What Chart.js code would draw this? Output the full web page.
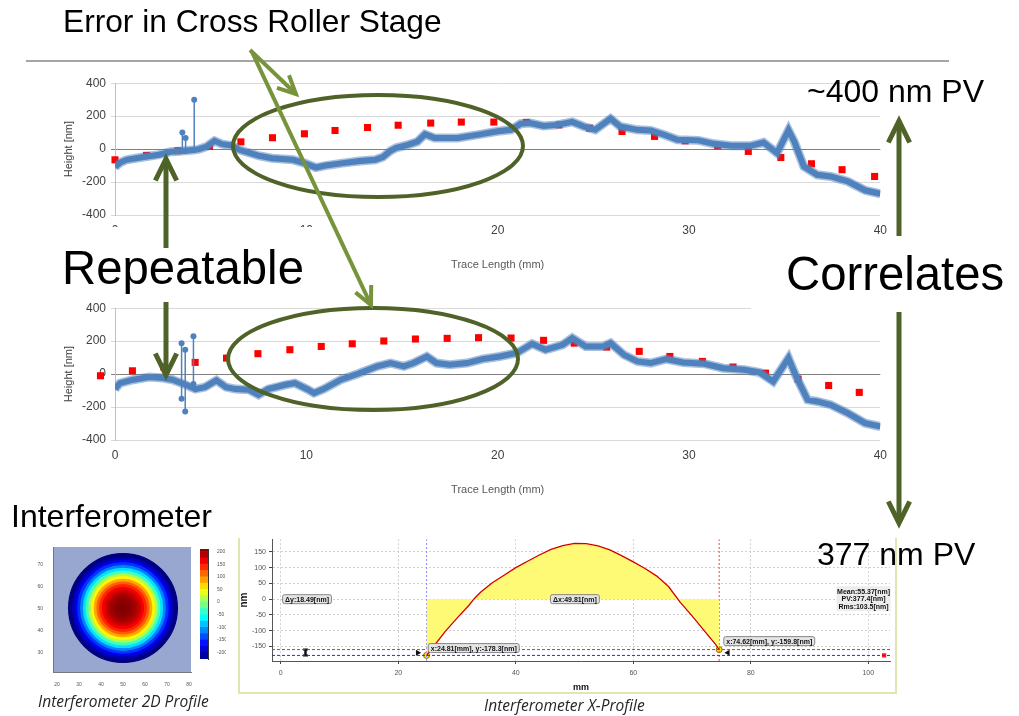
<!DOCTYPE html>
<html>
<head>
<meta charset="utf-8">
<script src="https://cdn.jsdelivr.net/npm/chart.js@4.4.0/dist/chart.umd.min.js"></script>
<style>
  html, body { margin: 0; padding: 0; background: #fff; }
  body { width: 1019px; height: 716px; position: relative; overflow: hidden; font-family: "Liberation Sans", Arial, sans-serif; }
  .box { position: absolute; }
  .cover { position: absolute; background: #fff; z-index: 2; }
  .txt { position: absolute; white-space: nowrap; line-height: 1; color: #000; z-index: 4; }
  .cap { position: absolute; white-space: nowrap; line-height: 1; color: #262626; font-family: "Open Sans", sans-serif; font-style: italic; font-size: 15.5px; z-index: 4; }
  #overlay { position: absolute; left: 0; top: 0; z-index: 3; }
</style>
</head>
<body>
<div class="box" id="trace1Box" style="left:60px;top:71px;width:835px;height:204px;"><canvas id="trace1Chart"></canvas></div>
<div class="box" id="trace2Box" style="left:60px;top:296px;width:835px;height:204px;"><canvas id="trace2Chart"></canvas></div>
<div class="box" id="profileFrame" style="left:238px;top:538px;width:659px;height:156px;box-sizing:border-box;border:2px solid #dde8b0;border-top:none;"></div>
<div class="box" id="profileBox" style="left:238px;top:532px;width:659px;height:162px;"><canvas id="profileChart"></canvas></div>
<div class="box" id="mapBox" style="left:30px;top:541px;width:165px;height:151px;"><canvas id="mapAxesChart"></canvas></div>
<div class="box" id="ringBox" style="left:68px;top:553px;width:110px;height:110px;z-index:1;"><canvas id="mapRingChart"></canvas></div>
<div class="box" id="barBox" style="left:200px;top:545px;width:26px;height:118px;"><canvas id="colorBarChart"></canvas></div>

<div class="cover" style="left:56px;top:227px;width:262px;height:66px;"></div>
<div class="cover" style="left:751px;top:246px;width:268px;height:64px;"></div>

<svg id="overlay" width="1019" height="716"></svg>

<div class="txt" style="left:63px;top:6px;font-size:31.7px;">Error in Cross Roller Stage</div>
<div class="txt" style="left:807px;top:75px;font-size:32px;">~400 nm PV</div>
<div class="txt" style="left:62px;top:244px;font-size:47.3px;">Repeatable</div>
<div class="txt" style="left:786px;top:250px;font-size:47.3px;">Correlates</div>
<div class="txt" style="left:11px;top:500px;font-size:32px;">Interferometer</div>
<div class="txt" style="left:817px;top:538px;font-size:32px;">377 nm PV</div>
<div class="cap" style="left:38px;top:694px;">Interferometer 2D Profile</div>
<div class="cap" style="left:484px;top:698px;">Interferometer X-Profile</div>

<script>
// trace 1 (upper stylus scan)
const trace1X = [0, 0.3, 0.6, 1.5, 2.3, 2.9, 3.5, 4.1, 4.4, 4.8, 5.2, 5.6, 6.1, 6.5, 7.5, 8.2, 9.3, 9.9, 10.5, 11.0,
  11.9, 12.8, 13.6, 14.0, 14.4, 14.7, 15.3, 15.8, 16.2, 16.7, 17.9, 19.0, 20.0, 20.7, 21.2, 21.7, 22.4, 23.1, 23.9, 24.5,
  25.1, 25.9, 26.4, 27.3, 28.0, 28.7, 29.4, 30.5, 31.3, 32.2, 33.2, 33.9, 34.6, 35.2, 35.5, 36.0, 36.7, 37.4, 38.3, 39.2, 40.0];
const trace1Y = [-109, -80, -65, -48, -34, -16, -12, -6, 0, 16, 50, 30, 22, -4, -40, -55, -65, -85, -112, -100,
  -85, -72, -65, -48, -10, 8, 26, 45, 90, 68, 68, 88, 108, 117, 154, 158, 141, 147, 165, 137,
  117, 185, 137, 117, 113, 87, 57, 53, 32, 20, 20, 40, -24, 115, 46, -105, -156, -166, -196, -250, -271];
const spike1X = [3.52, 3.69, 4.14];
const spike1Low = [-12, -10, -6];
const spike1High = [101, 67, 299];
const stage1X = [0, 1.65, 3.29, 4.94, 6.58, 8.23, 9.9, 11.5, 13.2, 14.8, 16.5, 18.1, 19.8,
  21.5, 23.2, 24.8, 26.5, 28.2, 29.8, 31.5, 33.1, 34.8, 36.4, 38.0, 39.7];
const stage1Y = [-65, -38, -10, 16, 44, 69, 93, 113, 131, 145, 158, 164, 164,
  162, 147, 127, 107, 77, 50, 20, -14, -51, -89, -125, -166];

// trace 2 (repeat scan)
const trace2X = [0, 0.26, 0.95, 1.8, 2.5, 3.0, 3.7, 4.2, 4.7, 5.3, 5.8, 6.3, 7.0, 7.5, 8.0, 8.9, 9.4, 10.1, 10.4, 10.9,
  11.8, 12.7, 13.7, 14.4, 15.1, 15.6, 16.3, 16.8, 17.5, 18.4, 19.2, 20.1, 21.0, 21.8, 22.5, 23.4, 23.9, 24.6, 25.5, 25.9,
  26.6, 27.3, 28.0, 28.8, 29.7, 30.8, 31.8, 32.9, 33.7, 34.4, 35.2, 35.6, 36.2, 36.7, 37.4, 38.3, 39.2, 40.0];
const trace2Y = [-91, -55, -34, -18, -24, -34, -65, -91, -79, -38, -79, -91, -95, -126, -91, -65, -55, -95, -115, -91,
  -34, 2, 47, 67, 47, 67, 107, 67, 57, 67, 91, 107, 128, 184, 148, 178, 219, 168, 168, 188,
  117, 77, 67, 91, 71, 63, 36, 26, 10, -45, 97, -14, -156, -166, -186, -237, -298, -318];
const spike2X = [3.48, 3.67, 4.1];
const spike2Low = [-150, -227, -60];
const spike2High = [188, 148, 229];
const stage2X = [-0.76, 0.91, 2.55, 4.19, 5.83, 7.47, 9.14, 10.78, 12.4, 14.05, 15.7, 17.36, 19.0,
  20.7, 22.4, 24.0, 25.7, 27.4, 29.0, 30.7, 32.3, 34.0, 35.7, 37.3, 38.9];
const stage2Y = [-10, 20, 43, 71, 97, 124, 148, 168, 184, 201, 213, 217, 221,
  219, 205, 188, 164, 138, 107, 77, 43, 6, -30, -69, -111];

// interferometer X-profile
const profileX = [24.81, 26, 28, 30, 32, 33, 34, 36, 38, 40, 42, 44, 46, 48, 50, 52, 54, 56, 58, 60, 62, 64, 66, 68, 70, 72, 74, 74.62];
const profileY = [-178.3, -150, -102, -60, -20, 3, 22, 52, 76, 100, 120, 140, 158, 170, 177, 176, 169, 156, 138, 118, 97, 73, 40, -10, -53, -98, -143, -159.8];
const profileXTicks = [0, 20, 40, 60, 80, 100];
const profileYTicks = [-150, -100, -50, 0, 50, 100, 150];
const cursorA = { x: 24.81, y: -178.3 };
const cursorB = { x: 74.62, y: -159.8 };
const profileNotes = [
  { text: "\u0394y:18.49[nm]", x: 0.3, y: 0 },
  { text: "\u0394x:49.81[nm]", x: 45.9, y: 0 },
  { text: "x:24.81[mm], y:-178.3[nm]", x: 25.1, y: -155 },
  { text: "x:74.62[mm], y:-159.8[nm]", x: 75.4, y: -133 }
];
const profileStats = ["Mean:55.37[nm]", "PV:377.4[nm]", "Rms:103.5[nm]"];

// interferometer 2D map: height per ring, outer edge to centre
const mapRingHeights = [-225, -205, -180, -150, -115, -75, -35, 10, 50, 85, 115, 140, 160, 175, 188, 196, 202, 206, 208, 210];
const mapXTicks = [20, 30, 40, 50, 60, 70, 80];
const mapYTicks = [30, 40, 50, 60, 70];
const colorBarLevels = [-225, -200, -175, -150, -125, -100, -75, -50, -25, 0, 25, 50, 75, 100, 125, 150, 175, 200, 210];
const colorBarTicks = [-200, -150, -100, -50, 0, 50, 100, 150, 200];

const jet = (v) => {
    const t = (v - colorBarLevels[0]) / (colorBarLevels[colorBarLevels.length - 1] - colorBarLevels[0]);
    const c = (k) => Math.round(255 * Math.max(0, Math.min(1, 1.5 - Math.abs(4 * t - k))));
    return `rgb(${c(3)},${c(2)},${c(1)})`;
};

const pairs = (xs, ys) => xs.map((x, i) => ({ x, y: ys[i] }));
const spikes = (xs, lows, highs) =>
    xs.flatMap((x, i) => [{ x, y: lows[i] }, { x, y: highs[i] }, { x, y: null }]);
const fixedTicks = (values) => (scale) => {
    scale.ticks = values.map((value) => ({ value }));
};

// lets the stage markers that sit left of x = 0 still be drawn
const looseArea = {
    id: "looseArea",
    beforeDatasetDraw(chart, args) {
        if (args.index !== 3) return;
        this._saved = chart.chartArea;
        chart.chartArea = { ...chart.chartArea, left: chart.chartArea.left - 25 };
    },
    afterDatasetDraw(chart, args) {
        if (args.index !== 3 || !this._saved) return;
        chart.chartArea = this._saved;
        this._saved = null;
    },
};

document.addEventListener("DOMContentLoaded", () => {
    Chart.defaults.font.family = "'Liberation Sans', Arial, sans-serif";
    Chart.defaults.animation = false;

    /** ===== Trace charts (Line) ===== */
    const traceChart = (id, tx, ty, sx, slo, shi, qx, qy) => {
        const ctx = document.getElementById(id)?.getContext("2d");
        if (!ctx) return;
        const trace = pairs(tx, ty);
        new Chart(ctx, {
            type: "line",
            data: {
                datasets: [
                    { data: trace, borderColor: "rgba(79,129,189,0.5)", borderWidth: 9, pointRadius: 0, tension: 0 },
                    { data: trace, borderColor: "#4f81bd", borderWidth: 6, pointRadius: 0, tension: 0 },
                    {
                        data: spikes(sx, slo, shi),
                        borderColor: "#4f81bd",
                        borderWidth: 1.5,
                        pointRadius: 3,
                        pointBackgroundColor: "#4f81bd",
                        pointBorderWidth: 0,
                        spanGaps: false,
                    },
                    {
                        data: pairs(qx, qy),
                        showLine: false,
                        pointStyle: "rect",
                        pointRadius: 5,
                        pointBackgroundColor: "#ff0000",
                        pointBorderWidth: 0,
                        clip: false,
                    },
                ],
            },
            options: {
                responsive: true,
                maintainAspectRatio: false,
                layout: { padding: { top: 0, right: 13, left: 0, bottom: 0 } },
                plugins: { legend: { display: false }, tooltip: { enabled: false } },
                scales: {
                    x: {
                        type: "linear",
                        min: 0,
                        max: 40,
                        ticks: { stepSize: 10, color: "#404040", font: { size: 12 }, padding: 8, maxRotation: 0 },
                        grid: { display: false, drawTicks: false },
                        border: { display: false },
                        title: {
                            display: true,
                            text: "Trace Length (mm)",
                            color: "#595959",
                            font: { size: 11 },
                            padding: { top: 0, bottom: 3 },
                        },
                        afterFit: (s) => { s.height = 60; },
                    },
                    y: {
                        min: -400,
                        max: 400,
                        ticks: { stepSize: 200, color: "#404040", font: { size: 12 }, padding: 5 },
                        grid: {
                            color: (c) => (c.tick && c.tick.value === 0 ? "#808080" : "#d9d9d9"),
                            tickLength: 4,
                        },
                        border: { color: "#bfbfbf" },
                        title: {
                            display: true,
                            text: "Height [nm]",
                            color: "#404040",
                            font: { size: 11 },
                            padding: { top: 2, bottom: 0 },
                        },
                        afterFit: (s) => { s.width = 55; },
                    },
                },
            },
            plugins: [looseArea],
        });
    };

    traceChart("trace1Chart", trace1X, trace1Y, spike1X, spike1Low, spike1High, stage1X, stage1Y);
    traceChart("trace2Chart", trace2X, trace2Y, spike2X, spike2Low, spike2High, stage2X, stage2Y);

    /** ===== Interferometer X-Profile (Line) ===== */
    const profileLabels = {
        id: "profileLabels",
        afterDatasetsDraw(chart) {
            const { ctx, scales: { x, y } } = chart;
            ctx.save();
            ctx.font = "bold 7px 'Liberation Sans', Arial, sans-serif";
            ctx.textBaseline = "middle";
            const tag = (text, px, py) => {
                const w = ctx.measureText(text).width + 5;
                ctx.beginPath();
                ctx.roundRect(px, py - 4.5, w, 9, 2);
                ctx.fillStyle = "#e4e4e4";
                ctx.fill();
                ctx.strokeStyle = "#6f6f6f";
                ctx.lineWidth = 0.8;
                ctx.stroke();
                ctx.fillStyle = "#111";
                ctx.fillText(text, px + 2.5, py + 0.5);
            };
            profileNotes.forEach((n) => tag(n.text, x.getPixelForValue(n.x), y.getPixelForValue(n.y)));

            const cx = x.getPixelForValue(99.2);
            const cy = y.getPixelForValue(0);
            ctx.fillStyle = "rgba(235,235,235,0.9)";
            ctx.fillRect(cx - 27, cy - 13, 54, 25);
            ctx.fillStyle = "#111";
            ctx.textAlign = "center";
            profileStats.forEach((s, i) => ctx.fillText(s, cx, cy - 7 + i * 7.4));
            ctx.restore();
        },
    };

    const profileCtx = document.getElementById("profileChart")?.getContext("2d");
    if (profileCtx) {
        const xMin = -1.5, xMax = 103.7, yMin = -196, yMax = 190;
        new Chart(profileCtx, {
            type: "line",
            data: {
                datasets: [
                    {
                        data: pairs(profileX, profileY),
                        borderColor: "#d40000",
                        borderWidth: 1.3,
                        backgroundColor: "rgba(255,250,110,0.95)",
                        fill: "origin",
                        pointRadius: 0,
                    },
                    {
                        data: [{ x: xMin, y: cursorB.y }, { x: xMax, y: cursorB.y }],
                        borderColor: "#ff2020", borderWidth: 1, borderDash: [3, 2], pointRadius: 0,
                    },
                    {
                        data: [{ x: xMin, y: cursorA.y }, { x: xMax, y: cursorA.y }],
                        borderColor: "#2a2ae0", borderWidth: 1, borderDash: [3, 2], pointRadius: 0,
                    },
                    {
                        data: [{ x: cursorA.x, y: yMin }, { x: cursorA.x, y: yMax }],
                        borderColor: "#8a8aff", borderWidth: 1, borderDash: [2, 2], pointRadius: 0,
                    },
                    {
                        data: [{ x: cursorB.x, y: yMin }, { x: cursorB.x, y: yMax }],
                        borderColor: "#ff4040", borderWidth: 1, borderDash: [2, 2], pointRadius: 0,
                    },
                    {
                        data: [{ x: 4.2, y: cursorB.y }, { x: 4.2, y: cursorA.y }],
                        borderColor: "#111", borderWidth: 2.5, pointStyle: "line",
                        pointRadius: 2.5, pointBorderColor: "#111", pointBorderWidth: 2,
                    },
                    {
                        data: [{ x: 23.3, y: -170 }, { x: 76.1, y: -170 }],
                        showLine: false, pointStyle: "triangle", rotation: [90, -90],
                        pointRadius: 3.5, pointBackgroundColor: "#111", pointBorderWidth: 0,
                    },
                    {
                        data: [cursorA, cursorB],
                        showLine: false, pointRadius: 3, pointBackgroundColor: "#ffe600",
                        pointBorderColor: "#8a6d00", pointBorderWidth: 1,
                    },
                    {
                        data: [{ x: 102.7, y: cursorA.y }],
                        showLine: false, pointStyle: "rect", pointRadius: 3,
                        pointBackgroundColor: "#ff2020", pointBorderWidth: 0,
                    },
                ],
            },
            options: {
                responsive: true,
                maintainAspectRatio: false,
                layout: { padding: { top: 0, right: 7, left: 0, bottom: 0 } },
                plugins: { legend: { display: false }, tooltip: { enabled: false } },
                scales: {
                    x: {
                        type: "linear",
                        min: xMin,
                        max: xMax,
                        afterBuildTicks: fixedTicks(profileXTicks),
                        ticks: { color: "#555", font: { size: 7 }, padding: 5, maxRotation: 0 },
                        grid: { color: "#cfcfcf", tickColor: "#444", tickLength: 3 },
                        border: { color: "#555", dash: [2, 2] },
                        title: { display: true, text: "mm", color: "#111", font: { size: 9, weight: "bold" }, padding: { top: 0, bottom: 1 } },
                        afterFit: (s) => { s.height = 33; },
                    },
                    y: {
                        min: yMin,
                        max: yMax,
                        afterBuildTicks: fixedTicks(profileYTicks),
                        ticks: { color: "#555", font: { size: 7 }, padding: 3 },
                        grid: { color: "#cfcfcf", tickColor: "#444", tickLength: 3 },
                        border: { color: "#555", dash: [2, 2] },
                        title: { display: true, text: "nm", color: "#111", font: { size: 10, weight: "bold" }, padding: { top: 0, bottom: 0 } },
                        afterFit: (s) => { s.width = 34; },
                    },
                },
            },
            plugins: [profileLabels],
        });
    }

    /** ===== Interferometer 2D Profile (axes + rings + colour bar) ===== */
    const plotBg = {
        id: "plotBg",
        beforeDraw(chart) {
            const { ctx, chartArea: a } = chart;
            ctx.save();
            ctx.fillStyle = "#98a7cf";
            ctx.fillRect(a.left, a.top, a.right - a.left, a.bottom - a.top);
            ctx.restore();
        },
    };

    const mapAxesCtx = document.getElementById("mapAxesChart")?.getContext("2d");
    if (mapAxesCtx) {
        const tinyTicks = { color: "#555", font: { size: 5 }, padding: 2 };
        new Chart(mapAxesCtx, {
            type: "scatter",
            data: { datasets: [{ data: [] }] },
            options: {
                responsive: true,
                maintainAspectRatio: false,
                layout: { padding: { top: 6, right: 4, left: 0, bottom: 0 } },
                plugins: { legend: { display: false }, tooltip: { enabled: false } },
                scales: {
                    x: {
                        min: 18.2, max: 80.9, afterBuildTicks: fixedTicks(mapXTicks),
                        ticks: tinyTicks, grid: { display: false }, border: { color: "#777" },
                        afterFit: (s) => { s.height = 20; },
                    },
                    y: {
                        min: 20.9, max: 78.2, afterBuildTicks: fixedTicks(mapYTicks),
                        ticks: tinyTicks, grid: { display: false }, border: { color: "#777" },
                        afterFit: (s) => { s.width = 23; },
                    },
                },
            },
            plugins: [plotBg],
        });
    }

    const mapRingCtx = document.getElementById("mapRingChart")?.getContext("2d");
    if (mapRingCtx) {
        new Chart(mapRingCtx, {
            type: "doughnut",
            data: {
                labels: ["height"],
                datasets: mapRingHeights.map((h) => ({
                    data: [1],
                    backgroundColor: jet(h),
                    borderColor: jet(h),
                    borderWidth: 1.2,
                })),
            },
            options: {
                responsive: true,
                maintainAspectRatio: false,
                cutout: 0,
                layout: { padding: 0 },
                plugins: { legend: { display: false }, tooltip: { enabled: false } },
            },
        });
    }

    const colorBarCtx = document.getElementById("colorBarChart")?.getContext("2d");
    if (colorBarCtx) {
        new Chart(colorBarCtx, {
            type: "bar",
            data: {
                labels: ["nm"],
                datasets: colorBarLevels.slice(0, -1).map((lo, i) => ({
                    data: [[lo, colorBarLevels[i + 1]]],
                    backgroundColor: jet((lo + colorBarLevels[i + 1]) / 2),
                    borderWidth: 0,
                    barPercentage: 1,
                    categoryPercentage: 1,
                    grouped: false,
                })),
            },
            options: {
                responsive: true,
                maintainAspectRatio: false,
                layout: { padding: { top: 4, bottom: 4, left: 0, right: 0 } },
                plugins: { legend: { display: false }, tooltip: { enabled: false } },
                scales: {
                    x: { display: false },
                    y: {
                        position: "right",
                        min: -225,
                        max: 210,
                        afterBuildTicks: fixedTicks(colorBarTicks),
                        ticks: { color: "#555", font: { size: 5 }, padding: 1 },
                        grid: { display: false },
                        border: { color: "#333" },
                        afterFit: (s) => { s.width = 18; },
                    },
                },
            },
        });
    }

    /** ===== Annotations (arrows, ellipses, rule) ===== */
    const svg = document.getElementById("overlay");
    const arrow = (x1, y1, x2, y2, color, width, head, spread) => {
        const a = Math.atan2(y2 - y1, x2 - x1);
        const wing = (s) => `${x2 - head * Math.cos(a + s)},${y2 - head * Math.sin(a + s)}`;
        return `<line x1="${x1}" y1="${y1}" x2="${x2}" y2="${y2}" stroke="${color}" stroke-width="${width}"/>` +
            `<polyline points="${wing(spread)} ${x2},${y2} ${wing(-spread)}" fill="none" stroke="${color}" stroke-width="${width}" stroke-linejoin="miter"/>`;
    };
    const olive = "#4f6228";
    const leaf = "#77933c";
    svg.innerHTML =
        `<line x1="26" y1="61" x2="949" y2="61" stroke="#a6a6a6" stroke-width="2"/>` +
        `<ellipse cx="378" cy="146" rx="145" ry="51" fill="none" stroke="${olive}" stroke-width="4"/>` +
        `<ellipse cx="373" cy="359" rx="145" ry="51" fill="none" stroke="${olive}" stroke-width="4"/>` +
        arrow(166, 248, 166, 159, olive, 5, 24, 0.46) +
        arrow(166, 302, 166, 375, olive, 5, 24, 0.46) +
        arrow(899, 236, 899, 121, olive, 5, 24, 0.46) +
        arrow(899, 312, 899, 523, olive, 5, 24, 0.46) +
        arrow(250, 50, 296, 94, leaf, 4, 20, 0.45) +
        arrow(252, 52, 371, 305, leaf, 4, 20, 0.45);
});
</script>
</body>
</html>
